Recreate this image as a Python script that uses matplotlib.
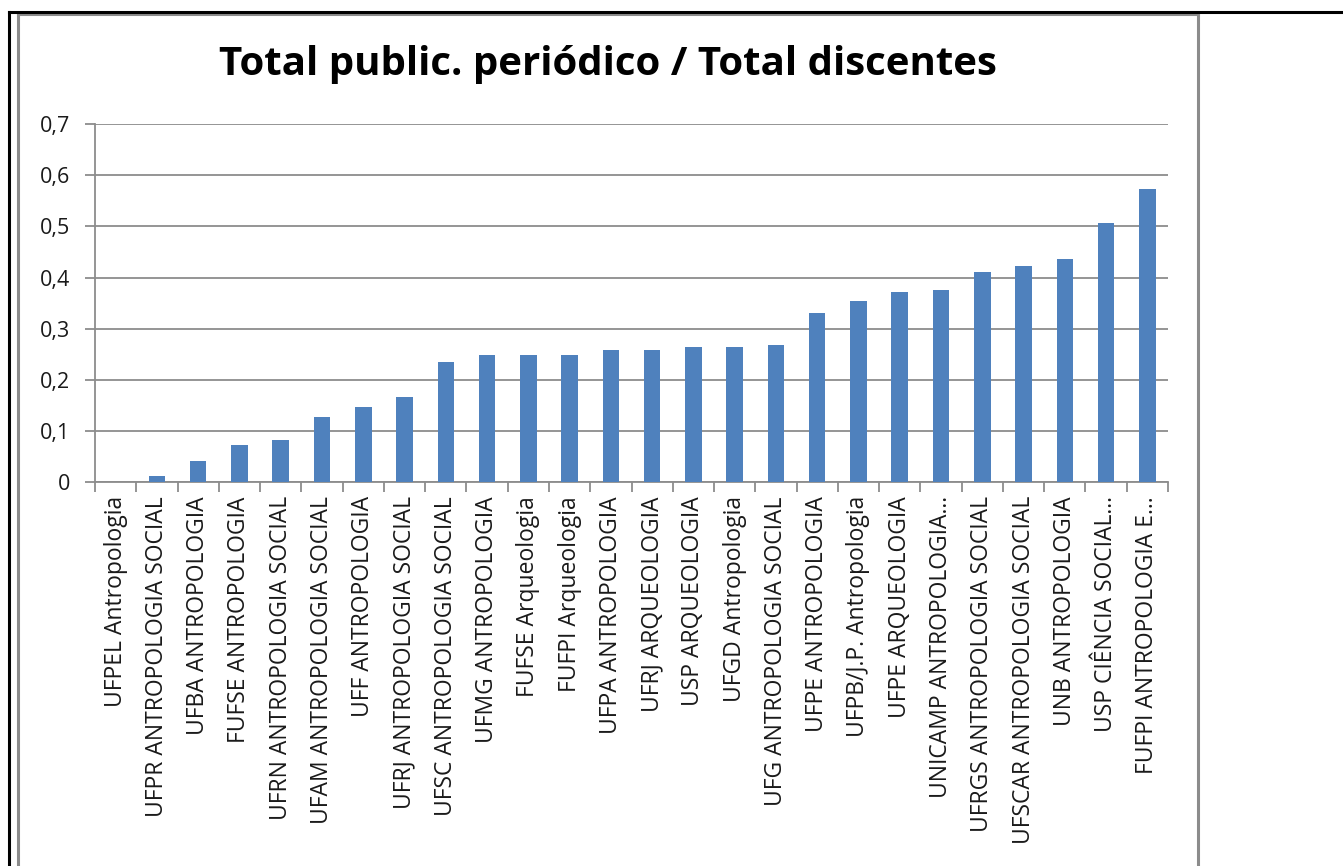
import matplotlib
matplotlib.use("Agg")
import matplotlib.pyplot as plt
from matplotlib.lines import Line2D
import numpy as np

categories = [
    "UFPEL Antropologia", "UFPR ANTROPOLOGIA SOCIAL", "UFBA ANTROPOLOGIA",
    "FUFSE ANTROPOLOGIA", "UFRN ANTROPOLOGIA SOCIAL", "UFAM ANTROPOLOGIA SOCIAL",
    "UFF ANTROPOLOGIA", "UFRJ ANTROPOLOGIA SOCIAL", "UFSC ANTROPOLOGIA SOCIAL",
    "UFMG ANTROPOLOGIA", "FUFSE Arqueologia", "FUFPI Arqueologia",
    "UFPA ANTROPOLOGIA", "UFRJ ARQUEOLOGIA", "USP ARQUEOLOGIA",
    "UFGD Antropologia", "UFG ANTROPOLOGIA SOCIAL", "UFPE ANTROPOLOGIA",
    "UFPB/J.P. Antropologia", "UFPE ARQUEOLOGIA", "UNICAMP ANTROPOLOGIA...",
    "UFRGS ANTROPOLOGIA SOCIAL", "UFSCAR ANTROPOLOGIA SOCIAL", "UNB ANTROPOLOGIA",
    "USP CIÊNCIA SOCIAL...", "FUFPI ANTROPOLOGIA E...",
]
values = [
    0.0, 0.012, 0.042, 0.073, 0.083, 0.128, 0.148, 0.166, 0.236, 0.248,
    0.248, 0.248, 0.258, 0.259, 0.264, 0.264, 0.269, 0.331, 0.354, 0.372,
    0.376, 0.410, 0.423, 0.436, 0.506, 0.573,
]
yticks = [0, 0.1, 0.2, 0.3, 0.4, 0.5, 0.6, 0.7]
ytick_labels = ["0", "0,1", "0,2", "0,3", "0,4", "0,5", "0,6", "0,7"]
title = "Total public. periódico / Total discentes"

W, H = 1343, 866
fig = plt.figure(figsize=(W / 100, H / 100), dpi=100)
plt.rcParams["font.family"] = ["Open Sans", "DejaVu Sans"]

def fx(x):
    return x / W

def fy(y):
    return 1 - y / H

ax = fig.add_axes([fx(95), fy(482.3), fx(1168) - fx(95), fy(124) - fy(482.3)])
x = np.arange(len(categories))
ax.bar(x, values, width=0.4, color="#4F81BD", zorder=3)
ax.set_xlim(-0.5, len(categories) - 0.5)
ax.set_ylim(0, 0.7)
ax.set_yticks(yticks)
ax.set_yticklabels(ytick_labels, fontsize=15.5, color="#1a1a1a")
ax.yaxis.grid(True, color="#8C8C8C", linewidth=1.3, zorder=0)
ax.set_axisbelow(True)

# category ticks between categories
ax.set_xticks(np.arange(-0.5, len(categories), 1.0))
ax.set_xticklabels([])
ax.set_xticks(x, minor=True)
ax.set_xticklabels(categories, minor=True, rotation=90, fontsize=16.5,
                   va="top", ha="center", color="#1a1a1a")
ax.tick_params(axis="x", which="minor", length=0, pad=10)
ax.tick_params(axis="x", which="major", length=7, width=1.3, color="#8C8C8C", direction="out")
ax.tick_params(axis="y", length=7, width=1.3, color="#8C8C8C", direction="out", pad=11)

for s in ["top", "right"]:
    ax.spines[s].set_visible(False)
for s in ["left", "bottom"]:
    ax.spines[s].set_color("#8C8C8C")
    ax.spines[s].set_linewidth(1.3)

fig.text(fx(607.5), fy(64), title, ha="center", va="center",
         fontsize=29, fontweight="bold", color="#000000")

# frames
gray = "#8C8C8C"
fig.add_artist(Line2D([fx(18), fx(18)], [fy(14), 0], color=gray, lw=2.2))
fig.add_artist(Line2D([fx(18), fx(1197.5)], [fy(14), fy(14)], color=gray, lw=2.2))
fig.add_artist(Line2D([fx(1197.5), fx(1197.5)], [fy(14), 0], color=gray, lw=2.2))
fig.add_artist(Line2D([fx(8.5), fx(8.5)], [fy(12), 0], color="black", lw=2.2))
fig.add_artist(Line2D([fx(8.5), 1], [fy(12), fy(12)], color="black", lw=2.2))

fig.savefig("out.png", dpi=100)
